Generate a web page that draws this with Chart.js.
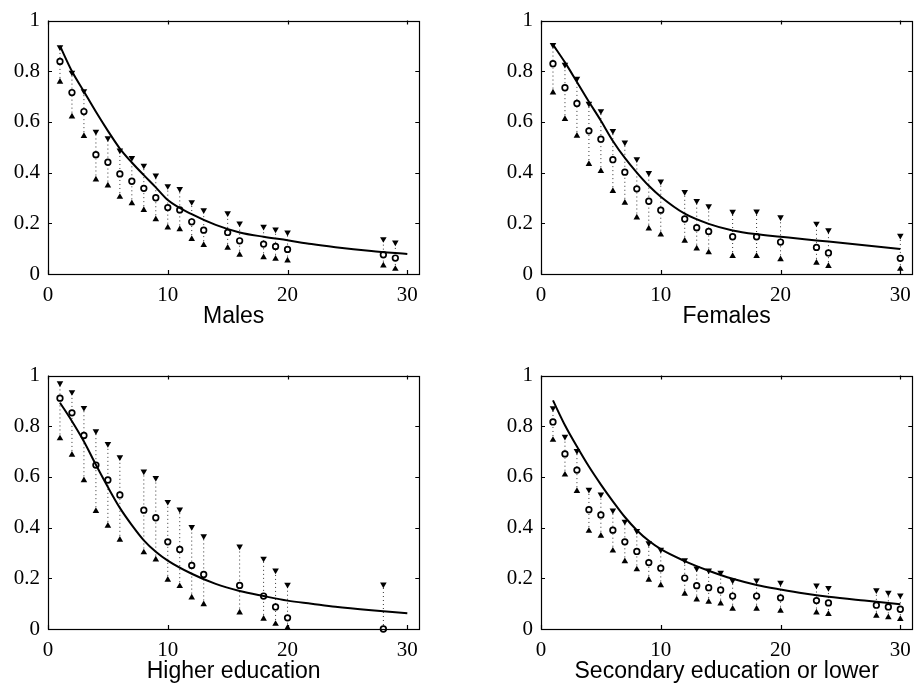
<!DOCTYPE html>
<html>
<head>
<meta charset="utf-8">
<script src="https://cdn.jsdelivr.net/npm/chart.js@4/dist/chart.umd.min.js"></script>
<style>
  body { margin: 0; background: #fff; }
  .panel { position: absolute; width: 427px; height: 340px; }
</style>
</head>
<body>
<div class="panel" style="left:0;top:0"><canvas id="males" width="427" height="340"></canvas></div>
<div class="panel" style="left:493px;top:0"><canvas id="females" width="427" height="340"></canvas></div>
<div class="panel" style="left:0;top:355px"><canvas id="higher" width="427" height="340"></canvas></div>
<div class="panel" style="left:493px;top:355px"><canvas id="secondary" width="427" height="340"></canvas></div>
<script>
// axis ticks
const xTicks = [0, 10, 20, 30];
const yTicks = [0, 0.2, 0.4, 0.6, 0.8, 1];

// fitted curve, read at these x positions
const curveX = [1, 2, 3, 4, 5, 6, 7, 8, 9, 10, 12, 14, 16, 18, 20, 22, 24, 27, 30];

// Males
const malesX = [1, 2, 3, 4, 5, 6, 7, 8, 9, 10, 11, 12, 13, 15, 16, 18, 19, 20, 28, 29];
const malesUpper = [0.895, 0.795, 0.722, 0.562, 0.536, 0.488, 0.458, 0.428, 0.389, 0.347, 0.336, 0.284, 0.252, 0.240, 0.200, 0.187, 0.176, 0.164, 0.138, 0.125];
const malesEst = [0.839, 0.716, 0.641, 0.471, 0.441, 0.395, 0.366, 0.338, 0.301, 0.262, 0.253, 0.206, 0.173, 0.164, 0.131, 0.118, 0.109, 0.097, 0.076, 0.063];
const malesLower = [0.758, 0.621, 0.544, 0.373, 0.349, 0.304, 0.279, 0.252, 0.216, 0.183, 0.176, 0.138, 0.114, 0.103, 0.076, 0.066, 0.060, 0.053, 0.033, 0.020];
const malesCurve = [0.900, 0.800, 0.720, 0.640, 0.565, 0.495, 0.440, 0.390, 0.342, 0.292, 0.236, 0.194, 0.164, 0.147, 0.133, 0.118, 0.106, 0.091, 0.079];

// Females
const femalesX = [1, 2, 3, 4, 5, 6, 7, 8, 9, 10, 12, 13, 14, 16, 18, 20, 23, 24, 30];
const femalesUpper = [0.904, 0.826, 0.771, 0.672, 0.643, 0.565, 0.519, 0.453, 0.399, 0.365, 0.324, 0.288, 0.268, 0.246, 0.247, 0.224, 0.199, 0.173, 0.151];
const femalesEst = [0.830, 0.735, 0.673, 0.565, 0.532, 0.451, 0.402, 0.336, 0.287, 0.252, 0.217, 0.183, 0.168, 0.147, 0.147, 0.126, 0.105, 0.083, 0.062];
const femalesLower = [0.716, 0.611, 0.545, 0.434, 0.406, 0.327, 0.281, 0.223, 0.179, 0.155, 0.131, 0.100, 0.085, 0.071, 0.071, 0.058, 0.044, 0.031, 0.020];
const femalesCurve = [0.905, 0.835, 0.758, 0.680, 0.605, 0.525, 0.458, 0.400, 0.348, 0.305, 0.238, 0.198, 0.172, 0.157, 0.147, 0.137, 0.128, 0.113, 0.099];

// Higher education
const higherX = [1, 2, 3, 4, 5, 6, 8, 9, 10, 11, 12, 13, 16, 18, 19, 20, 28];
const higherUpper = [0.970, 0.935, 0.873, 0.781, 0.730, 0.678, 0.622, 0.596, 0.502, 0.472, 0.403, 0.366, 0.326, 0.278, 0.231, 0.175, 0.176];
const higherEst = [0.911, 0.853, 0.764, 0.647, 0.588, 0.529, 0.469, 0.439, 0.344, 0.314, 0.251, 0.215, 0.172, 0.130, 0.087, 0.044, 0.0];
const higherLower = [0.752, 0.687, 0.587, 0.465, 0.407, 0.352, 0.302, 0.274, 0.194, 0.169, 0.124, 0.097, 0.065, 0.040, 0.020, 0.005, 0.0];
const higherCurve = [0.893, 0.820, 0.740, 0.648, 0.560, 0.478, 0.410, 0.350, 0.305, 0.270, 0.218, 0.178, 0.150, 0.130, 0.112, 0.100, 0.088, 0.074, 0.062];

// Secondary education or lower
const secondaryX = [1, 2, 3, 4, 5, 6, 7, 8, 9, 10, 12, 13, 14, 15, 16, 18, 20, 23, 24, 28, 29, 30];
const secondaryUpper = [0.872, 0.759, 0.703, 0.550, 0.531, 0.468, 0.424, 0.387, 0.339, 0.313, 0.272, 0.239, 0.231, 0.222, 0.192, 0.192, 0.183, 0.172, 0.162, 0.153, 0.143, 0.133];
const secondaryEst = [0.817, 0.691, 0.627, 0.471, 0.450, 0.390, 0.344, 0.306, 0.262, 0.240, 0.201, 0.171, 0.163, 0.154, 0.130, 0.130, 0.123, 0.112, 0.103, 0.094, 0.087, 0.078];
const secondaryLower = [0.746, 0.609, 0.544, 0.387, 0.368, 0.309, 0.267, 0.235, 0.194, 0.172, 0.139, 0.116, 0.107, 0.100, 0.080, 0.080, 0.072, 0.065, 0.059, 0.052, 0.046, 0.039];
const secondaryCurve = [0.902, 0.804, 0.720, 0.641, 0.570, 0.504, 0.442, 0.390, 0.348, 0.315, 0.268, 0.230, 0.198, 0.174, 0.156, 0.140, 0.127, 0.112, 0.098];

// box round the plot with inward ticks on all four sides
const framePlugin = {
  id: "frame",
  afterDatasetsDraw(chart) {
    const { ctx, chartArea: a, scales } = chart;
    const tl = 4;
    ctx.save();
    ctx.strokeStyle = "#000";
    ctx.lineWidth = 1.2;
    ctx.strokeRect(Math.round(a.left) + 0.5, Math.round(a.top) + 0.5,
      Math.round(a.right - a.left), Math.round(a.bottom - a.top));
    ctx.beginPath();
    xTicks.forEach((v) => {
      const px = Math.round(scales.x.getPixelForValue(v)) + 0.5;
      ctx.moveTo(px, a.bottom); ctx.lineTo(px, a.bottom - tl);
      ctx.moveTo(px, a.top); ctx.lineTo(px, a.top + tl);
    });
    yTicks.forEach((v) => {
      const py = Math.round(scales.y.getPixelForValue(v)) + 0.5;
      ctx.moveTo(a.left, py); ctx.lineTo(a.left + tl, py);
      ctx.moveTo(a.right, py); ctx.lineTo(a.right - tl, py);
    });
    ctx.stroke();
    ctx.restore();
  },
};

function makePanel(id, title, xs, upper, est, lower, curve) {
  const pts = (vals) => xs.map((x, i) => ({ x: x, y: vals[i] }));
  const bars = xs.flatMap((x, i) => [
    { x: x, y: lower[i] },
    { x: x, y: upper[i] },
    { x: x, y: null },
  ]);

  new Chart(document.getElementById(id), {
    type: "scatter",
    data: {
      datasets: [
        {
          label: "fit",
          data: curveX.map((x, i) => ({ x: x, y: curve[i] })),
          showLine: true,
          borderColor: "#000",
          borderWidth: 2,
          pointRadius: 0,
          cubicInterpolationMode: "monotone",
        },
        {
          label: "estimate",
          data: pts(est),
          pointStyle: "circle",
          pointRadius: 2.8,
          borderWidth: 1.7,
          borderColor: "#000",
          backgroundColor: "#fff",
          clip: false,
        },
        {
          label: "upper",
          data: pts(upper),
          pointStyle: "triangle",
          rotation: 180,
          pointRadius: 3.8,
          borderWidth: 0,
          backgroundColor: "#000",
          clip: false,
        },
        {
          label: "lower",
          data: pts(lower),
          pointStyle: "triangle",
          pointRadius: 3.8,
          borderWidth: 0,
          backgroundColor: "#000",
          clip: false,
        },
        {
          label: "interval",
          data: bars,
          showLine: true,
          spanGaps: false,
          borderColor: "#333",
          borderWidth: 1,
          borderDash: [1, 3],
          pointRadius: 0,
        },
      ],
    },
    options: {
      responsive: false,
      animation: false,
      devicePixelRatio: 1,
      layout: { padding: { top: 18, right: 4, left: 0, bottom: 0 } },
      plugins: { legend: { display: false }, tooltip: { enabled: false } },
      scales: {
        x: {
          type: "linear",
          min: 0,
          max: 31,
          afterBuildTicks: (s) => { s.ticks = xTicks.map((v) => ({ value: v })); },
          afterFit: (s) => { s.height = 66; },
          grid: { display: false, drawTicks: false },
          border: { display: false },
          ticks: {
            color: "#000",
            font: { family: "Liberation Serif", size: 21 },
            padding: 9,
            maxRotation: 0,
            autoSkip: false,
            callback: (v) => String(v),
          },
          title: {
            display: true,
            text: title,
            color: "#000",
            font: { family: "Liberation Sans", size: 23 },
            padding: { top: 0, bottom: 10 },
          },
        },
        y: {
          type: "linear",
          min: 0,
          max: 1,
          afterBuildTicks: (s) => { s.ticks = yTicks.map((v) => ({ value: v })); },
          afterFit: (s) => { s.width = 48; },
          grid: { display: false, drawTicks: false },
          border: { display: false },
          ticks: {
            color: "#000",
            font: { family: "Liberation Serif", size: 21 },
            padding: 8,
            autoSkip: false,
            callback: (v) => String(v),
          },
        },
      },
    },
    plugins: [framePlugin],
  });
}

makePanel("males", "Males", malesX, malesUpper, malesEst, malesLower, malesCurve);
makePanel("females", "Females", femalesX, femalesUpper, femalesEst, femalesLower, femalesCurve);
makePanel("higher", "Higher education", higherX, higherUpper, higherEst, higherLower, higherCurve);
makePanel("secondary", "Secondary education or lower", secondaryX, secondaryUpper, secondaryEst, secondaryLower, secondaryCurve);
</script>
</body>
</html>
